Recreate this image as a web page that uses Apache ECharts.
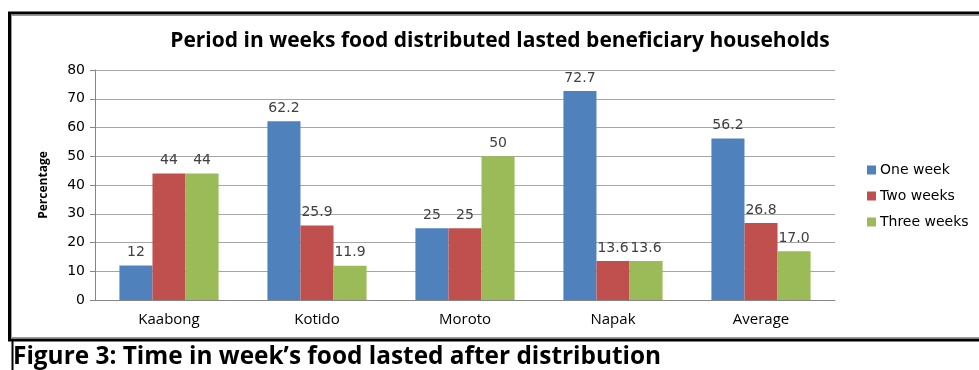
<!DOCTYPE html>
<html><head><meta charset="utf-8">
<script src="https://cdn.jsdelivr.net/npm/echarts@6/dist/echarts.min.js"></script>
<style>html,body{margin:0;padding:0;background:#fff}#c{width:979px;height:370px}</style>
</head><body><div id="c"></div>
<script>
const categories = ['Kaabong', 'Kotido', 'Moroto', 'Napak', 'Average'];
const oneWeek = [12, 62.2, 25, 72.7, 56.2];
const twoWeeks = [44, 25.9, 25, 13.6, 26.8];
const threeWeeks = [44, 11.9, 50, 13.6, 17.0];
const labelsOne = ['12', '62.2', '25', '72.7', '56.2'];
const labelsTwo = ['44', '25.9', '25', '13.6', '26.8'];
const labelsThree = ['44', '11.9', '50', '13.6', '17.0'];
const yTicks = [0, 10, 20, 30, 40, 50, 60, 70, 80];

const chart = echarts.init(document.getElementById('c'), null, {renderer: 'canvas'});
const lbl = (arr) => ({
  show: true, position: 'top', distance: 6,
  color: '#404040', fontFamily: 'DejaVu Sans', fontSize: 14,
  formatter: p => arr[p.dataIndex]
});
chart.setOption({
  animation: false,
  legend: {
    orient: 'vertical', left: 862, top: 158, itemGap: 12,
    itemWidth: 9, itemHeight: 9, icon: 'rect',
    textStyle: {fontFamily: 'DejaVu Sans', fontSize: 14, color: '#000', padding: [0,0,0,-1]},
    data: ['One week', 'Two weeks', 'Three weeks']
  },
  grid: {left: 95, right: 144, top: 70, bottom: 70, containLabel: false},
  xAxis: {
    type: 'category', data: categories,
    axisLine: {lineStyle: {color: '#868686'}},
    axisTick: {show: false},
    axisLabel: {fontFamily: 'Open Sans', fontSize: 15, color: '#000', margin: 12}
  },
  yAxis: {
    type: 'value', min: 0, max: 80, interval: 10,
    name: 'Percentage', nameLocation: 'middle', nameGap: 45, nameRotate: 90,
    nameTextStyle: {fontFamily: 'Open Sans', fontWeight: 'bold', fontSize: 12, color: '#000'},
    axisLine: {show: true, lineStyle: {color: '#868686'}},
    axisTick: {show: true, length: 5, inside: false, lineStyle: {color: '#868686'}},
    axisLabel: {fontFamily: 'DejaVu Sans', fontSize: 14, color: '#000', margin: 10,
      formatter: v => yTicks.includes(v) ? String(v) : ''},
    splitLine: {lineStyle: {color: '#A6A6A6', width: 1}}
  },
  series: [
    {name: 'One week', type: 'bar', data: oneWeek, itemStyle: {color: '#4F81BD'},
     barGap: '0%', barCategoryGap: '33%', label: lbl(labelsOne)},
    {name: 'Two weeks', type: 'bar', data: twoWeeks, itemStyle: {color: '#C0504D'},
     label: lbl(labelsTwo)},
    {name: 'Three weeks', type: 'bar', data: threeWeeks, itemStyle: {color: '#9BBB59'},
     label: lbl(labelsThree)}
  ],
  graphic: [
    {type: 'line', shape: {x1: 8, y1: 13, x2: 979, y2: 13}, style: {stroke: '#000', lineWidth: 3}},
    {type: 'line', shape: {x1: 11, y1: 15.5, x2: 979, y2: 15.5}, style: {stroke: '#999', lineWidth: 1}},
    {type: 'line', shape: {x1: 9.5, y1: 12, x2: 9.5, y2: 341}, style: {stroke: '#000', lineWidth: 3}},
    {type: 'line', shape: {x1: 11.5, y1: 15, x2: 11.5, y2: 338}, style: {stroke: '#999', lineWidth: 1}},
    {type: 'line', shape: {x1: 11, y1: 337.5, x2: 979, y2: 337.5}, style: {stroke: '#999', lineWidth: 1}},
    {type: 'line', shape: {x1: 8, y1: 340, x2: 979, y2: 340}, style: {stroke: '#000', lineWidth: 3}},
    {type: 'line', shape: {x1: 12.5, y1: 340, x2: 12.5, y2: 370}, style: {stroke: '#000', lineWidth: 2}},
    {type: 'text', x: 500, y: 41,
     style: {text: 'Period in weeks food distributed lasted beneficiary households',
       font: 'bold 21px "Open Sans"', fill: '#000', align: 'center', verticalAlign: 'middle'}},
    {type: 'text', x: 13, y: 357,
     style: {text: 'Figure 3: Time in week\u2019s food lasted after distribution',
       font: 'bold 24.4px "Open Sans"', fill: '#000', verticalAlign: 'middle'}}
  ]
});
</script></body></html>
